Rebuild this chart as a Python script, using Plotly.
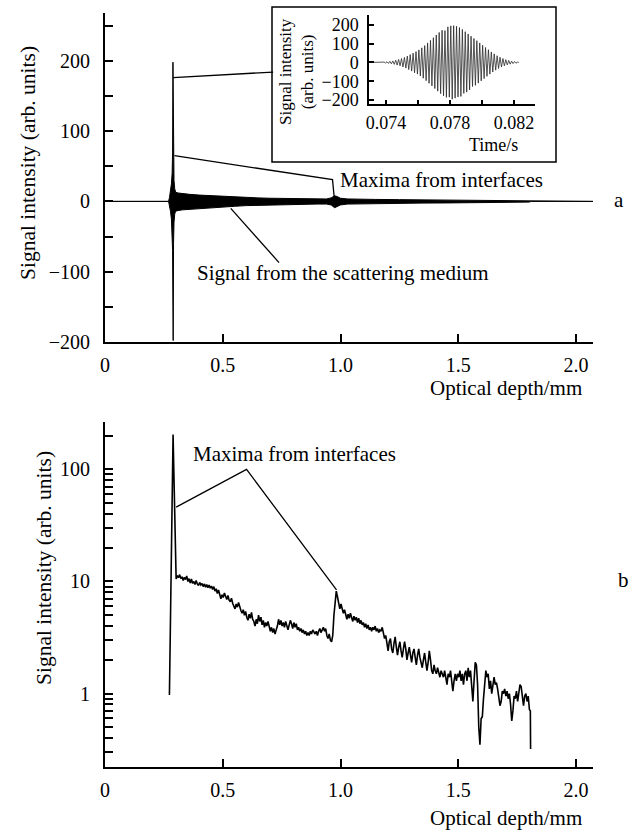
import plotly.graph_objects as go

# ---------------- data ----------------
# Panel a: envelope of the dense interferometric signal (upper / lower edge)
env_depth = [0.000, 0.270, 0.274, 0.278, 0.282, 0.285, 0.287, 0.2885, 0.2895, 0.291, 0.293, 0.296,
             0.300, 0.310, 0.330, 0.360, 0.400, 0.450, 0.500, 0.550, 0.600, 0.650, 0.700, 0.750,
             0.800, 0.850, 0.900, 0.940, 0.960, 0.975, 0.985, 1.000, 1.030, 1.080, 1.150, 1.250,
             1.350, 1.450, 1.550, 1.650, 1.750, 1.800, 1.810, 2.072]
env_upper = [0, 0, 6, 14, 25, 40, 70, 198, 150, 60, 30, 18,
             13, 12, 11, 10, 9, 8, 7, 6.5, 5.5, 5, 4.5, 4.2,
             4, 3.8, 3.5, 3.5, 5, 8, 7, 4.5, 3.5, 3, 2.8, 2.5,
             2.2, 2, 1.8, 1.5, 1.2, 1, 0, 0]
env_lower = [0, 0, -6, -14, -25, -40, -70, -150, -198, -60, -30, -18,
             -14, -13, -12, -11, -10, -9, -8, -7, -6, -5.5, -5, -4.5,
             -4.3, -4, -3.8, -3.8, -5, -9, -8, -5, -3.8, -3.3, -3, -2.7,
             -2.4, -2.2, -1.9, -1.6, -1.3, -1, 0, 0]

# Inset: single interference burst, sampled at half-period peaks
inset_t0 = 0.07298
inset_dt = 0.0000905
inset_vals = [0, 0, 0, 0, 0, 0, 0, 0,
              0, -1, 2, -3, 4, -5, 6, -7, 8, -10,
              12, -14, 16, -18, 21, -24, 27, -30, 34, -38,
              42, -46, 50, -55, 58, -62, 67, -72, 78, -84,
              90, -97, 104, -111, 118, -125, 132, -139, 146, -153,
              160, -166, 172, -178, 170, -186, 190, -185, 195, -196,
              196, -190, 193, -184, 186, -181, 176, -165, 164, -158,
              152, -146, 140, -128, 128, -122, 116, -110, 104, -98,
              92, -86, 80, -74, 68, -62, 56, -51, 46, -41,
              36, -32, 28, -24, 21, -18, 15, -13, 11, -9,
              7, -6, 5, -4, 2, 0]

# Panel b: log-scale depth profile
depth_b = [0.2735, 0.289, 0.302, 0.307, 0.312, 0.317, 0.322, 0.327, 0.332, 0.337, 0.342, 0.347,
           0.352, 0.357, 0.362, 0.367, 0.372, 0.377, 0.382, 0.387, 0.392, 0.397, 0.402, 0.407,
           0.412, 0.417, 0.422, 0.427, 0.432, 0.437, 0.442, 0.447, 0.452, 0.457, 0.462, 0.467,
           0.472, 0.477, 0.482, 0.487, 0.492, 0.497, 0.502, 0.507, 0.512, 0.517, 0.522, 0.527,
           0.532, 0.537, 0.542, 0.547, 0.552, 0.557, 0.562, 0.567, 0.572, 0.577, 0.582, 0.587,
           0.592, 0.597, 0.602, 0.607, 0.612, 0.617, 0.622, 0.627, 0.632, 0.637, 0.642, 0.647,
           0.652, 0.657, 0.662, 0.667, 0.672, 0.677, 0.682, 0.687, 0.692, 0.697, 0.702, 0.707,
           0.712, 0.717, 0.722, 0.727, 0.732, 0.737, 0.742, 0.747, 0.752, 0.757, 0.762, 0.767,
           0.772, 0.777, 0.782, 0.787, 0.792, 0.797, 0.802, 0.807, 0.812, 0.817, 0.822, 0.827,
           0.832, 0.837, 0.842, 0.847, 0.852, 0.857, 0.862, 0.867, 0.872, 0.877, 0.882, 0.887,
           0.892, 0.897, 0.902, 0.907, 0.912, 0.917, 0.922, 0.927, 0.932, 0.937, 0.942, 0.947,
           0.952, 0.957, 0.962, 0.967, 0.972, 0.977, 0.982, 0.987, 0.992, 0.997, 1.002, 1.007,
           1.012, 1.017, 1.022, 1.027, 1.032, 1.037, 1.042, 1.047, 1.052, 1.057, 1.062, 1.067,
           1.072, 1.077, 1.082, 1.087, 1.092, 1.097, 1.102, 1.107, 1.112, 1.117, 1.122, 1.127,
           1.132, 1.137, 1.142, 1.147, 1.152, 1.157, 1.162, 1.167, 1.172, 1.177, 1.182, 1.187,
           1.192, 1.197, 1.202, 1.207, 1.212, 1.217, 1.222, 1.227, 1.232, 1.237, 1.242, 1.247,
           1.252, 1.257, 1.262, 1.267, 1.272, 1.277, 1.282, 1.287, 1.292, 1.297, 1.302, 1.307,
           1.312, 1.317, 1.322, 1.327, 1.332, 1.337, 1.342, 1.347, 1.352, 1.357, 1.362, 1.367,
           1.372, 1.377, 1.382, 1.387, 1.392, 1.397, 1.402, 1.407, 1.412, 1.417, 1.422, 1.427,
           1.432, 1.437, 1.442, 1.447, 1.452, 1.457, 1.462, 1.467, 1.472, 1.477, 1.482, 1.487,
           1.492, 1.497, 1.502, 1.507, 1.512, 1.517, 1.522, 1.527, 1.532, 1.537, 1.542, 1.547,
           1.552, 1.557, 1.562, 1.567, 1.572, 1.577, 1.582, 1.587, 1.592, 1.597, 1.602, 1.607,
           1.612, 1.617, 1.622, 1.627, 1.632, 1.637, 1.642, 1.647, 1.652, 1.657, 1.662, 1.667,
           1.672, 1.677, 1.682, 1.687, 1.692, 1.697, 1.702, 1.707, 1.712, 1.717, 1.722, 1.727,
           1.732, 1.737, 1.742, 1.747, 1.752, 1.757, 1.762, 1.767, 1.772, 1.777, 1.782, 1.787,
           1.792, 1.797, 1.802, 1.806, 1.807]
intensity_b = [0.97, 205, 10.5, 11.3, 10.8, 11.5, 10.6, 11.0, 10.2, 10.9, 10.4, 11.2,
               10.0, 10.6, 9.7, 10.5, 9.6, 10.0, 9.4, 10.2, 9.5, 9.2, 9.8, 9.3,
               9.6, 9.0, 9.5, 8.9, 9.4, 8.8, 9.3, 8.7, 9.1, 8.5, 9.0, 8.2,
               8.6, 7.8, 8.4, 7.6, 7.0, 7.6, 7.2, 7.9, 7.3, 6.9, 7.5, 6.8,
               6.6, 7.1, 6.4, 6.0, 5.7, 6.3, 5.9, 6.5, 5.8, 5.5, 5.2, 5.6,
               5.0, 5.4, 4.8, 4.5, 5.1, 4.7, 5.3, 4.6, 4.4, 4.0, 4.6, 4.2,
               5.0, 4.4, 4.8, 4.1, 4.5, 3.9, 4.3, 4.0, 4.4, 3.8, 3.6, 3.9,
               3.5, 3.8, 3.4, 3.7, 4.0, 4.6, 4.1, 4.5, 4.0, 4.3, 3.9, 4.4,
               4.0, 3.7, 4.1, 4.5, 4.2, 3.8, 4.3, 3.9, 4.2, 3.7, 3.9, 3.6,
               3.8, 3.5, 3.7, 3.4, 3.6, 3.3, 3.5, 3.3, 3.6, 3.4, 3.7, 3.5,
               3.4, 3.6, 3.3, 3.6, 3.8, 3.5, 3.7, 3.9, 3.6, 3.8, 3.3, 3.1,
               3.4, 3.0, 2.9, 3.3, 5.0, 6.8, 8.2, 7.3, 6.2, 5.7, 6.3, 5.6,
               5.2, 5.6, 5.0, 4.6, 5.1, 4.7, 5.2, 4.8, 4.4, 4.9, 4.5, 4.8,
               4.3, 4.7, 4.2, 4.5, 4.1, 4.3, 3.9, 4.2, 3.8, 4.1, 3.7, 3.9,
               3.6, 3.9, 3.7, 4.0, 3.6, 3.8, 3.5, 3.7, 3.6, 3.9, 3.4, 3.1,
               3.3, 2.7, 2.4, 2.9, 3.1, 2.5, 2.3, 2.8, 3.2, 2.6, 2.2, 2.6,
               2.9, 2.4, 2.1, 2.5, 2.9, 2.5, 2.0, 2.3, 2.6, 2.2, 1.9, 2.3,
               2.5, 2.1, 1.8, 2.2, 2.5, 2.1, 1.8, 1.7, 2.0, 2.3, 1.9, 1.6,
               1.9, 2.4, 2.0, 1.6, 1.5, 1.8, 1.6, 1.5, 1.7, 1.5, 1.4, 1.6,
               1.5, 1.4, 1.6, 1.3, 1.2, 1.5, 1.4, 1.6, 1.3, 1.05, 1.3, 1.5,
               1.3, 1.5, 1.4, 1.6, 1.3, 1.5, 1.2, 1.5, 1.6, 1.3, 1.7, 1.4,
               1.6, 1.2, 0.85, 1.3, 1.9, 1.8, 1.2, 0.5, 0.35, 0.6, 0.62, 0.9,
               1.3, 1.6, 1.4, 1.5, 1.1, 1.3, 1.0, 1.2, 1.4, 1.2, 1.25, 1.1,
               0.95, 0.78, 0.85, 1.05, 1.0, 1.1, 0.95, 1.05, 0.9, 1.0, 0.8, 0.57,
               0.7, 0.95, 0.9, 1.05, 0.85, 1.0, 1.2, 1.15, 0.9, 0.78, 0.95, 1.0,
               0.85, 0.95, 0.72, 0.70, 0.32]

# Leader lines of the annotations (data coordinates)
lead_a1_x, lead_a1_y = [0.289, 0.714], [176, 184]
lead_a2_x, lead_a2_y = [0.295, 0.966, 0.974], [65, 31, 3]
lead_a3_x, lead_a3_y = [0.534, 0.739], [-10, -87]
lead_b_x, lead_b_y = [0.302, 0.601, 0.983], [46, 100, 8.4]

x_ticks = [0, 0.5, 1.0, 1.5, 2.0]
x_ticktext = ["0", "0.5", "1.0", "1.5", "2.0"]
ya_ticks = [-200, -150, -100, -50, 0, 50, 100, 150, 200, 250]
ya_ticktext = ["\u2212200", "", "\u2212100", "", "0", "", "100", "", "200", ""]
yb_ticks = [0.3, 0.4, 0.5, 0.6, 0.7, 0.8, 0.9, 1, 2, 3, 4, 5, 6, 7, 8, 9,
            10, 20, 30, 40, 50, 60, 70, 80, 90, 100, 200]
yb_ticktext = ["1" if v == 1 else "10" if v == 10 else "100" if v == 100 else "" for v in yb_ticks]
inset_xticks = [0.074, 0.076, 0.078, 0.080, 0.082]
inset_xticktext = ["0.074", "", "0.078", "", "0.082"]
inset_yticks = [-200, -100, 0, 100, 200]
inset_yticktext = ["\u2212200", "\u2212100", "0", "100", "200"]

# ---------------- figure ----------------
FONT = "Liberation Serif, Times New Roman, DejaVu Serif, serif"
W, H = 638, 832
ML, MR, MT, MB = 105, 45, 13, 65
PW, PH = W - ML - MR, H - MT - MB


def px(xp):
    return (xp - ML) / PW


def py(yp):
    return (H - MB - yp) / PH


fig = go.Figure()

band_x = env_depth + env_depth[::-1]
band_y = env_upper + env_lower[::-1]
fig.add_trace(go.Scatter(x=band_x, y=band_y, mode="lines", fill="toself", fillcolor="black",
                         line=dict(color="black", width=1), xaxis="x", yaxis="y",
                         hoverinfo="skip", showlegend=False))

for lx, ly in [(lead_a1_x, lead_a1_y), (lead_a2_x, lead_a2_y), (lead_a3_x, lead_a3_y)]:
    fig.add_trace(go.Scatter(x=lx, y=ly, mode="lines", line=dict(color="black", width=1.3),
                             xaxis="x", yaxis="y", hoverinfo="skip", showlegend=False))

fig.add_trace(go.Scatter(x=depth_b, y=intensity_b, mode="lines",
                         line=dict(color="black", width=1.6), xaxis="x2", yaxis="y2",
                         hoverinfo="skip", showlegend=False))
fig.add_trace(go.Scatter(x=lead_b_x, y=lead_b_y, mode="lines",
                         line=dict(color="black", width=1.3), xaxis="x2", yaxis="y2",
                         hoverinfo="skip", showlegend=False))

inset_t = [inset_t0 + i * inset_dt for i in range(len(inset_vals))]
fig.add_trace(go.Scatter(x=inset_t, y=inset_vals, mode="lines",
                         line=dict(color="#2a2a2a", width=0.8), xaxis="x3", yaxis="y3",
                         hoverinfo="skip", showlegend=False))

axis_common = dict(showline=True, linecolor="black", linewidth=1.8, ticks="inside",
                   ticklen=8, tickwidth=1.5, tickcolor="black", showgrid=False,
                   zeroline=False, tickfont=dict(family=FONT, size=20, color="black"))

top_dom = [py(342), 1.0]
bot_dom = [0.0, py(421.7)]

fig.update_layout(
    width=W, height=H,
    margin=dict(l=ML, r=MR, t=MT, b=MB),
    paper_bgcolor="white", plot_bgcolor="rgba(0,0,0,0)",
    showlegend=False,
    font=dict(family=FONT, color="black"),
    xaxis=dict(axis_common, domain=[0, 1], range=[0, 2.072], anchor="y",
               tickvals=x_ticks, ticktext=x_ticktext, ticklabelstandoff=4),
    yaxis=dict(axis_common, domain=top_dom, range=[-200, 268], anchor="x",
               tickvals=ya_ticks, ticktext=ya_ticktext, ticklabelstandoff=9),
    xaxis2=dict(axis_common, domain=[0, 1], range=[0, 2.072], anchor="y2",
                tickvals=x_ticks, ticktext=x_ticktext, ticklabelstandoff=4),
    yaxis2=dict(axis_common, domain=bot_dom, type="log", range=[-0.655, 2.425], anchor="x2",
                tickvals=yb_ticks, ticktext=yb_ticktext, ticklabelstandoff=9),
    xaxis3=dict(axis_common, domain=[px(369), px(535)], range=[0.07294, 0.08331], anchor="y3",
                tickvals=inset_xticks, ticktext=inset_xticktext, ticklen=5, linewidth=1.5,
                tickfont=dict(family=FONT, size=18, color="black"), ticklabelstandoff=1),
    yaxis3=dict(axis_common, domain=[py(104.3), py(15)], range=[-223, 253], anchor="x3",
                tickvals=inset_yticks, ticktext=inset_yticktext, ticklen=5, linewidth=1.5,
                tickfont=dict(family=FONT, size=18, color="black"), ticklabelstandoff=5),
)

# inset frame
fig.add_shape(type="rect", xref="paper", yref="paper",
              x0=px(272), x1=px(556), y0=py(162), y1=py(7),
              line=dict(color="black", width=1.5), fillcolor="rgba(0,0,0,0)")


def txt(text, xp, yp, size=21, xanchor="left", yanchor="middle", angle=0):
    fig.add_annotation(text=text, x=px(xp), y=py(yp), xref="paper", yref="paper",
                       xanchor=xanchor, yanchor=yanchor, textangle=angle, showarrow=False,
                       font=dict(family=FONT, size=size, color="black"))


txt("Signal intensity (arb. units)", 28, 163, size=21.5, xanchor="center", angle=-90)
txt("Signal intensity (arb. units)", 44, 568, size=21.5, xanchor="center", angle=-90)
txt("Optical depth/mm", 584, 388, xanchor="right")
txt("Optical depth/mm", 584, 818, xanchor="right")
txt("Maxima from interfaces", 338, 180)
txt("Signal from the scattering medium", 195, 272.7)
txt("Maxima from interfaces", 190.7, 454)
txt("a", 619, 200, xanchor="center")
txt("b", 623, 580, xanchor="center")
txt("Signal intensity<br>(arb. units)", 296, 72, size=17, xanchor="center", angle=-90)
txt("Time/s", 493, 145, size=18, xanchor="center")

fig.write_html("out.html")
